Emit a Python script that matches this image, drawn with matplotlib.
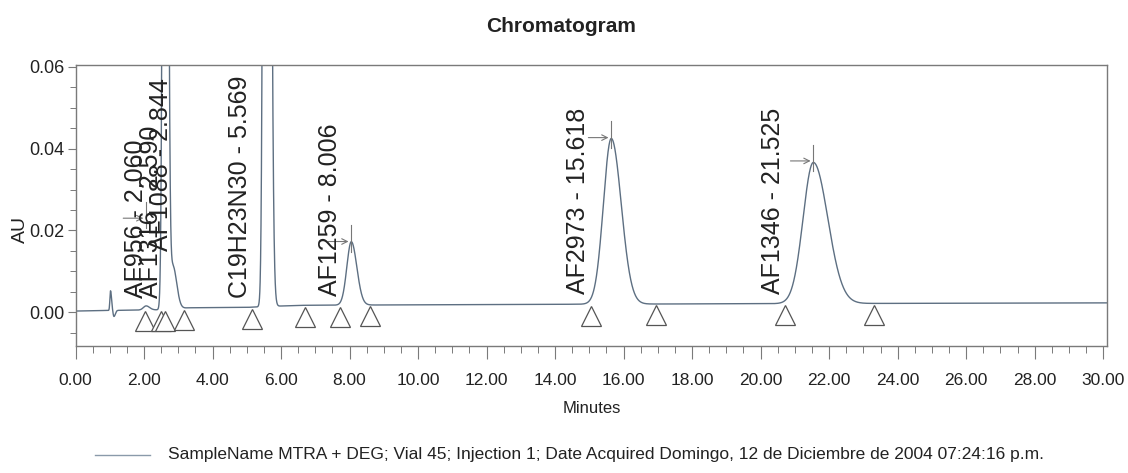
import numpy as np
import matplotlib
matplotlib.use("Agg")
import matplotlib.pyplot as plt
from matplotlib import font_manager

# ---------------- data ----------------
# peak table: retention time (min), apex height above baseline (AU), left / right width (min)
peak_names   = ["spike", "dip", "AF956", "AF1316", "AF1088", "C19H23N30", "AF1259", "AF2973", "AF1346"]
peak_times   = [1.02, 1.12, 2.06, 2.62, 2.84, 5.57, 8.05, 15.64, 21.54]
peak_heights = [0.0048, -0.0015, 0.0010, 0.40, 0.0105, 0.60, 0.0155, 0.0405, 0.0345]
peak_sig_l   = [0.018, 0.025, 0.08, 0.055, 0.10, 0.060, 0.13, 0.23, 0.30]
peak_sig_r   = [0.030, 0.040, 0.10, 0.060, 0.11, 0.085, 0.16, 0.29, 0.42]

# baseline drift knots
base_t = [0.0, 0.5, 2.4, 3.3, 5.0, 6.5, 12.0, 20.0, 30.0]
base_v = [0.0003, 0.0004, 0.0006, 0.0011, 0.0012, 0.0017, 0.0019, 0.0021, 0.0023]

# peak labels
label_texts = ["AF956 - 2.060", "AF1316 - 2.590", "AF1088 - 2.844", "C19H23N30 - 5.569",
               "AF1259 - 8.006", "AF2973 - 15.618", "AF1346 - 21.525"]
# integration start/end markers (min)
marker_times = [2.02, 2.48, 2.60, 3.18, 5.15, 6.70, 7.72, 8.60, 15.05, 16.95, 20.72, 23.32]
# apex arrows (time, AU)
arrow_times = [2.06, 8.05, 15.64, 21.54]
arrow_vals  = [0.023, 0.0173, 0.0427, 0.037]

x_ticks = np.arange(0, 30.01, 2.0)
x_ticklabels = [f"{v:.2f}" for v in x_ticks]
y_ticks = [0.00, 0.02, 0.04, 0.06]
y_ticklabels = ["0.00", "0.02", "0.04", "0.06"]

legend_text = ("SampleName MTRA + DEG; Vial 45; Injection 1; Date Acquired Domingo, "
               "12 de Diciembre de 2004 07:24:16 p.m.")

# ---------------- layout / style ----------------
label_x = [1.76, 2.20, 2.50, 4.80, 7.44, 14.68, 20.35]
label_y = [0.0035, 0.0035, 0.0150, 0.0035, 0.0040, 0.0045, 0.0045]

names = {f.name for f in font_manager.fontManager.ttflist}
NARROW = "Liberation Sans Narrow" if "Liberation Sans Narrow" in names else "Liberation Sans"
ARIAL = "Liberation Sans"

TXT = "#222222"
LINE = "#5d6f82"
FRAME = "#7a7a7a"

fig = plt.figure(figsize=(11.28, 4.73), dpi=100)
ax = fig.add_axes([0.067, 0.268, 0.914, 0.595])

t = np.linspace(0, 30.1, 12000)
y = np.interp(t, base_t, base_v)
for tc, h, sl, sr in zip(peak_times, peak_heights, peak_sig_l, peak_sig_r):
    s = np.where(t < tc, sl, sr)
    y = y + h * np.exp(-0.5 * ((t - tc) / s) ** 2)
ax.plot(t, y, color=LINE, lw=1.0)

# integration markers (open triangles under the trace)
mk_base = np.interp(marker_times, base_t, base_v)
ax.plot(marker_times, mk_base - 0.0028, linestyle="none", marker="^", markersize=14,
        markerfacecolor="white", markeredgecolor="#555555", markeredgewidth=0.9)

# apex arrows
for tx, v in zip(arrow_times, arrow_vals):
    ax.annotate("", xy=(tx, v), xytext=(tx - 0.75, v),
                arrowprops=dict(arrowstyle="->", color="#777777", lw=0.8))
    ax.plot([tx, tx], [v - 0.0025, v + 0.004], color="#777777", lw=0.8)

for txt, lx, ly in zip(label_texts, label_x, label_y):
    ax.text(lx, ly, txt, rotation=90, ha="center", va="bottom", fontsize=18,
            family=ARIAL, color=TXT)

ax.set_xlim(0, 30.1)
ax.set_ylim(-0.0083, 0.0605)

ax.set_xticks(x_ticks)
ax.set_xticklabels(x_ticklabels, family=NARROW, fontsize=12.5, color=TXT)
ax.set_xticks(np.arange(0, 30.01, 0.5), minor=True)
ax.set_yticks(y_ticks)
ax.set_yticklabels(y_ticklabels, family=NARROW, fontsize=13, color=TXT)
ax.set_yticks(np.arange(-0.005, 0.0601, 0.005), minor=True)

ax.tick_params(axis="x", which="major", direction="out", length=9, width=0.8, color=FRAME, pad=10)
ax.tick_params(axis="x", which="minor", direction="out", length=5, width=0.7, color=FRAME)
ax.tick_params(axis="y", which="major", direction="out", length=6, width=0.8, color=FRAME, pad=2)
ax.tick_params(axis="y", which="minor", direction="out", length=4, width=0.7, color=FRAME)
for sp in ax.spines.values():
    sp.set_color(FRAME)
    sp.set_linewidth(1.0)

fig.text(0.497, 0.945, "Chromatogram", ha="center", va="center", fontsize=15,
         fontweight="bold", family=NARROW, color=TXT)
fig.text(0.018, 0.515, "AU", rotation=90, ha="center", va="center", fontsize=14,
         family=ARIAL, color=TXT)
fig.text(0.525, 0.137, "Minutes", ha="center", va="center", fontsize=12,
         family=NARROW, color=TXT)

fig.add_artist(plt.Line2D([0.084, 0.133], [0.038, 0.038], color="#8a9aaa", lw=1.0,
                          transform=fig.transFigure))
fig.text(0.149, 0.040, legend_text, ha="left", va="center", fontsize=12.5,
         family=NARROW, color=TXT)

fig.savefig("out.png", dpi=100)
